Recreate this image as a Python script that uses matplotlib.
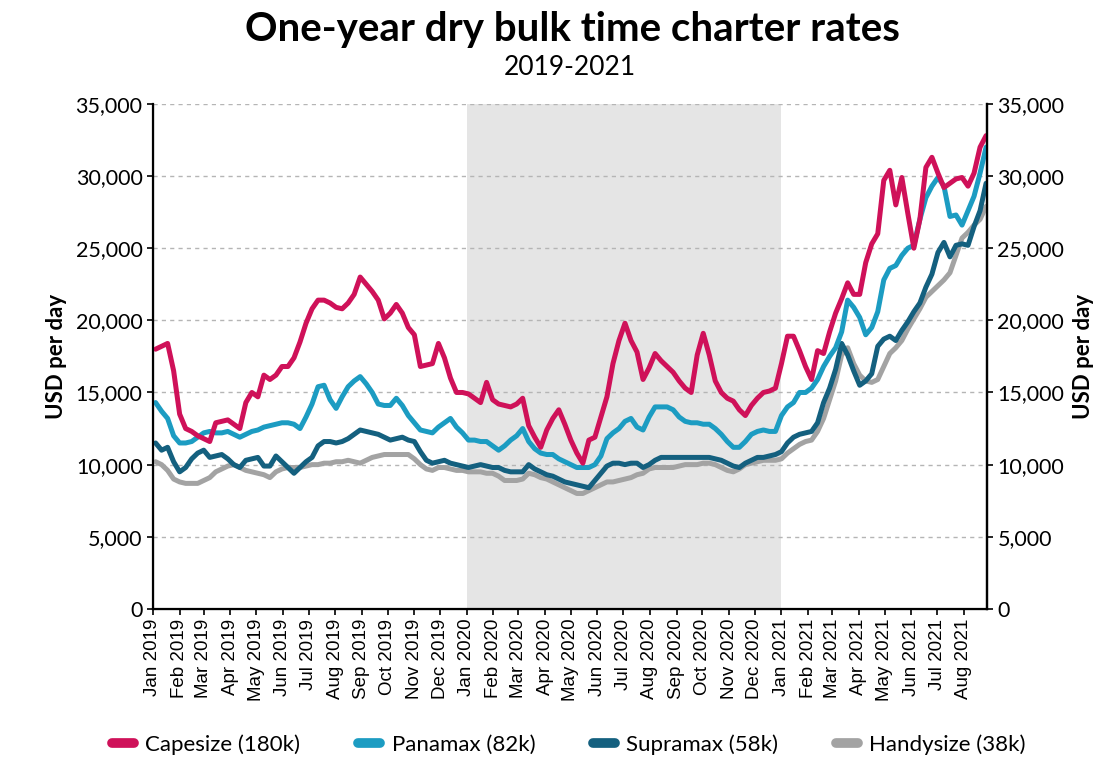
import numpy as np
import pandas as pd
import matplotlib.pyplot as plt
import matplotlib.dates as mdates
from matplotlib.ticker import FuncFormatter

# weekly rates, USD thousand per day
dates = pd.date_range("2019-01-04", periods=139, freq="7D")

capesize = [18.0, 18.2, 18.4, 16.5, 13.5, 12.5, 12.3, 12.0, 11.8, 11.6,
            12.9, 13.0, 13.1, 12.8, 12.5, 14.3, 15.0, 14.7, 16.2, 15.9,
            16.2, 16.8, 16.8, 17.4, 18.5, 19.8, 20.8, 21.4, 21.4, 21.2,
            20.9, 20.8, 21.2, 21.8, 23.0, 22.5, 22.0, 21.4, 20.1, 20.5,
            21.1, 20.5, 19.5, 19.0, 16.8, 16.9, 17.0, 18.4, 17.4, 16.0,
            15.0, 15.0, 14.9, 14.6, 14.3, 15.7, 14.5, 14.2, 14.1, 14.0,
            14.2, 14.6, 12.7, 11.9, 11.2, 12.4, 13.2, 13.8, 12.8, 11.7,
            10.8, 10.1, 11.7, 11.9, 13.3, 14.7, 17.0, 18.6, 19.8, 18.6,
            17.8, 15.9, 16.7, 17.7, 17.2, 16.8, 16.4, 15.8, 15.3, 15.0,
            17.6, 19.1, 17.6, 15.8, 15.0, 14.6, 14.4, 13.8, 13.4, 14.1,
            14.6, 15.0, 15.1, 15.3, 17.0, 18.9, 18.9, 17.9, 16.8, 15.9,
            17.9, 17.7, 19.2, 20.5, 21.5, 22.6, 21.8, 21.8, 24.0, 25.3,
            26.0, 29.7, 30.4, 28.0, 29.9, 27.4, 25.0, 27.0, 30.6, 31.3,
            30.2, 29.2, 29.5, 29.8, 29.9, 29.3, 30.2, 32.0, 32.8]

panamax = [14.3, 13.7, 13.2, 12.0, 11.5, 11.5, 11.6, 11.9, 12.2, 12.3,
           12.2, 12.2, 12.3, 12.1, 11.9, 12.1, 12.3, 12.4, 12.6, 12.7,
           12.8, 12.9, 12.9, 12.8, 12.5, 13.3, 14.2, 15.4, 15.5, 14.5,
           13.9, 14.7, 15.4, 15.8, 16.1, 15.6, 15.0, 14.2, 14.1, 14.1,
           14.6, 14.1, 13.4, 12.9, 12.4, 12.3, 12.2, 12.6, 12.9, 13.2,
           12.6, 12.2, 11.7, 11.7, 11.6, 11.6, 11.3, 11.0, 11.3, 11.7,
           12.0, 12.5, 11.6, 11.1, 10.8, 10.7, 10.7, 10.4, 10.2, 10.0,
           9.8, 9.8, 9.8, 10.0, 10.6, 11.8, 12.2, 12.5, 13.0, 13.2,
           12.6, 12.4, 13.3, 14.0, 14.0, 14.0, 13.8, 13.3, 13.0, 12.9,
           12.9, 12.8, 12.8, 12.5, 12.1, 11.6, 11.2, 11.2, 11.6, 12.1,
           12.3, 12.4, 12.3, 12.3, 13.4, 14.0, 14.3, 15.0, 15.0, 15.3,
           15.9, 16.8, 17.5, 18.1, 19.2, 21.4, 20.9, 20.2, 19.0, 19.5,
           20.6, 22.8, 23.6, 23.8, 24.5, 25.0, 25.2, 27.0, 28.5, 29.3,
           29.9, 29.3, 27.2, 27.3, 26.6, 27.6, 28.6, 30.2, 32.0]

supramax = [11.5, 11.0, 11.2, 10.2, 9.5, 9.8, 10.4, 10.8, 11.0, 10.5,
            10.6, 10.7, 10.4, 10.0, 9.8, 10.3, 10.4, 10.5, 9.9, 9.9,
            10.6, 10.2, 9.8, 9.4, 9.8, 10.2, 10.5, 11.3, 11.6, 11.6,
            11.5, 11.6, 11.8, 12.1, 12.4, 12.3, 12.2, 12.1, 11.9, 11.7,
            11.8, 11.9, 11.7, 11.6, 10.9, 10.3, 10.1, 10.2, 10.3, 10.1,
            10.0, 9.9, 9.8, 9.9, 10.0, 9.9, 9.8, 9.8, 9.6, 9.5,
            9.5, 9.5, 10.0, 9.7, 9.5, 9.3, 9.2, 9.0, 8.8, 8.7,
            8.6, 8.5, 8.4, 8.9, 9.4, 9.9, 10.1, 10.1, 10.0, 10.1,
            10.1, 9.8, 10.0, 10.3, 10.5, 10.5, 10.5, 10.5, 10.5, 10.5,
            10.5, 10.5, 10.5, 10.4, 10.3, 10.1, 9.9, 9.8, 10.1, 10.3,
            10.5, 10.5, 10.6, 10.7, 10.9, 11.5, 11.9, 12.1, 12.2, 12.3,
            12.9, 14.3, 15.3, 16.6, 18.4, 17.6, 16.5, 15.5, 15.8, 16.3,
            18.2, 18.7, 18.9, 18.6, 19.3, 19.9, 20.6, 21.2, 22.3, 23.2,
            24.7, 25.4, 24.4, 25.2, 25.3, 25.2, 26.5, 27.6, 29.5]

handysize = [10.2, 10.0, 9.6, 9.0, 8.8, 8.7, 8.7, 8.7, 8.9, 9.1,
             9.5, 9.7, 9.9, 10.0, 9.8, 9.6, 9.5, 9.4, 9.3, 9.1,
             9.5, 9.7, 9.8, 9.8, 9.8, 9.9, 10.0, 10.0, 10.1, 10.1,
             10.2, 10.2, 10.3, 10.2, 10.1, 10.3, 10.5, 10.6, 10.7, 10.7,
             10.7, 10.7, 10.7, 10.4, 10.0, 9.7, 9.6, 9.8, 9.8, 9.7,
             9.6, 9.6, 9.5, 9.5, 9.5, 9.4, 9.4, 9.2, 8.9, 8.9,
             8.9, 9.0, 9.4, 9.3, 9.1, 9.0, 8.8, 8.6, 8.4, 8.2,
             8.0, 8.0, 8.2, 8.4, 8.6, 8.8, 8.8, 8.9, 9.0, 9.1,
             9.3, 9.4, 9.7, 9.8, 9.8, 9.8, 9.8, 9.9, 10.0, 10.0,
             10.0, 10.1, 10.1, 10.0, 9.8, 9.6, 9.5, 9.7, 10.0, 10.1,
             10.2, 10.3, 10.3, 10.3, 10.4, 10.8, 11.1, 11.4, 11.6, 11.7,
             12.3, 13.2, 14.5, 15.8, 17.6, 18.1, 17.0, 16.2, 15.8, 15.7,
             15.9, 16.8, 17.7, 18.1, 18.6, 19.4, 20.1, 20.8, 21.6, 22.0,
             22.4, 22.8, 23.3, 24.5, 25.7, 26.1, 26.6, 27.0, 27.9]

names = ["Capesize (180k)", "Panamax (82k)", "Supramax (58k)", "Handysize (38k)"]
colors = ["#cf1159", "#1c9cc2", "#14607f", "#a3a3a3"]

plt.rcParams['font.family'] = ['Lato', 'DejaVu Sans']

fig = plt.figure(figsize=(11.2, 7.64), dpi=100)
ax = fig.add_axes([0.1366, 0.203, 0.7446, 0.661])

ax.axvspan(pd.Timestamp("2020-01-01"), pd.Timestamp("2021-01-01"), color="#e5e5e5", zorder=0, lw=0)

series = [capesize, panamax, supramax, handysize]
for vals, name, c in reversed(list(zip(series, names, colors))):
    ax.plot(dates, np.array(vals) * 1000, color=c, lw=3.6, label=name,
            solid_capstyle="round", solid_joinstyle="round", zorder=3)

ax.set_xlim(pd.Timestamp("2019-01-01"), pd.Timestamp("2021-08-28"))
ax.set_ylim(0, 35000)
ax.set_yticks(range(0, 35001, 5000))
fmt = FuncFormatter(lambda v, p: f"{int(v):,}")
ax.yaxis.set_major_formatter(fmt)
for y in range(5000, 35001, 5000):
    ax.axhline(y, color="#b5b5b5", lw=1.0, ls=(0, (3, 3)), zorder=1)

ax.xaxis.set_major_locator(mdates.MonthLocator())
ax.xaxis.set_major_formatter(mdates.DateFormatter("%b %Y"))
plt.setp(ax.get_xticklabels(), rotation=90, fontsize=13.5, family="Liberation Sans")
ax.tick_params(axis="y", labelsize=15.5, length=4, width=1.2)
ax.tick_params(axis="x", length=4, width=1.2, pad=3)

ax.spines["top"].set_visible(False)
for s in ["left", "bottom", "right"]:
    ax.spines[s].set_linewidth(1.6)
ax.set_ylabel("USD per day", fontsize=16, fontweight="bold", labelpad=6)

ax2 = ax.twinx()
ax2.set_ylim(0, 35000)
ax2.set_yticks(range(0, 35001, 5000))
ax2.yaxis.set_major_formatter(fmt)
ax2.tick_params(axis="y", labelsize=15.5, length=4, width=1.2)
ax2.spines["top"].set_visible(False)
ax2.spines["right"].set_linewidth(1.6)
ax2.set_ylabel("USD per day", fontsize=16, fontweight="bold", rotation=90, labelpad=6)

fig.text(0.511, 0.962, "One-year dry bulk time charter rates", ha="center", va="center",
         fontsize=29, fontweight="bold")
fig.text(0.509, 0.911, "2019-2021", ha="center", va="center", fontsize=19)

handles, labels = ax.get_legend_handles_labels()
order = [3, 2, 1, 0]
leg = fig.legend([handles[i] for i in order], [labels[i] for i in order],
                 loc="center", bbox_to_anchor=(0.508, 0.025), ncol=4, frameon=False,
                 fontsize=16, handlelength=1.0, handletextpad=0.5, columnspacing=2.6)
for h in leg.get_lines():
    h.set_linewidth(7)
    h.set_solid_capstyle("round")

fig.savefig("out.png", dpi=100)
